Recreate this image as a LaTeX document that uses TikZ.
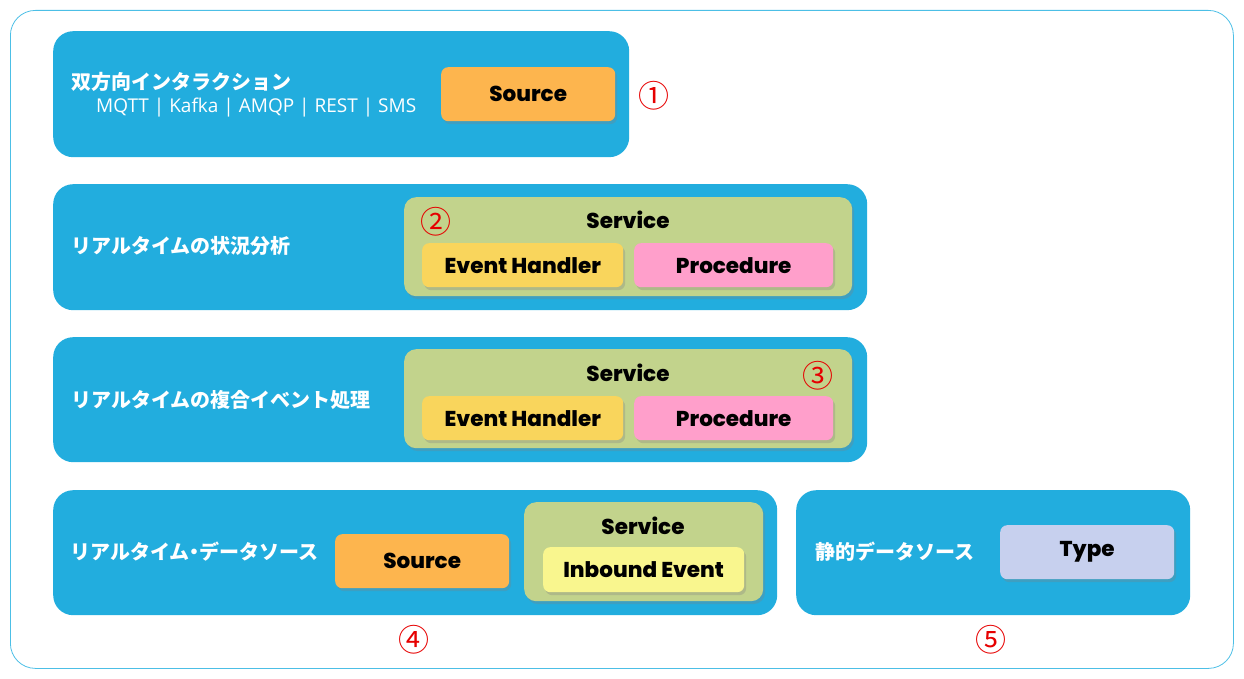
\documentclass[tikz,border=0pt]{standalone}
\usepackage{fontspec}
\usepackage{xcolor}
\usepackage{tikz}
\usetikzlibrary{positioning,shadows}
\newfontfamily\jpfont{Noto Sans CJK JP}
\newfontfamily\etiketfont{Poppins}[BoldFont={Poppins ExtraBold}]
\newfontfamily\protofont{Open Sans}
\definecolor{gxu-blaa}{HTML}{22ADDE}
\definecolor{gxu-ramme}{HTML}{4CBFE6}
\definecolor{gxu-orange}{HTML}{FDB54E}
\definecolor{gxu-groen}{HTML}{C2D38C}
\definecolor{gxu-gul}{HTML}{F9D55C}
\definecolor{gxu-pink}{HTML}{FF9FCB}
\definecolor{gxu-lysgul}{HTML}{F9F68E}
\definecolor{gxu-lilla}{HTML}{C7D0EE}
\definecolor{gxu-roed}{HTML}{E60000}

\begin{document}
\begin{tikzpicture}[x=1pt,y=-1pt,
  ramme/.style={draw=gxu-ramme,line width=0.8pt,rounded corners=25pt,anchor=north west,inner sep=0pt},
  raekke/.style={fill=gxu-blaa,rounded corners=20pt,anchor=north west,inner sep=0pt},
  tjeneste/.style={fill=gxu-groen,rounded corners=12pt,anchor=north west,inner sep=0pt,
    drop shadow={shadow xshift=2pt,shadow yshift=-3pt,opacity=0.3}},
  kort/.style={rounded corners=7pt,anchor=north west,inner sep=0pt,
    font=\etiketfont\bfseries\fontsize{21.5}{24}\selectfont,
    drop shadow={shadow xshift=2pt,shadow yshift=-3pt,opacity=0.3}},
  titel/.style={anchor=west,inner sep=0pt,text=white,font=\jpfont\bfseries\fontsize{20}{24}\selectfont},
  overskrift/.style={inner sep=0pt,font=\etiketfont\bfseries\fontsize{21.5}{24}\selectfont},
  nummer/.style={inner sep=0pt,text=gxu-roed,font=\jpfont\fontsize{31}{34}\selectfont}]
  \useasboundingbox (0,0) rectangle (1244,679);

  % Ramme
  \node[ramme,minimum width=1223pt,minimum height=658pt] (ramme) at (10,10) {};

  % Raekke 1
  \node[raekke,minimum width=576pt,minimum height=126pt] (r1) at (53,31) {};
  \node[titel] (t1) at (71,82) {双方向インタラクション};
  \node[anchor=west,inner sep=0pt,text=white,font=\protofont\fontsize{19}{22}\selectfont]
    (proto) at (96,108) {MQTT | Kafka | AMQP | REST | SMS};
  \node[kort,fill=gxu-orange,minimum width=174pt,minimum height=54pt] (kilde1) at (441,67) {Source};
  \node[nummer] (n1) at (654,96) {①};

  % Raekke 2
  \node[raekke,minimum width=814pt,minimum height=126pt] (r2) at (53,184) {};
  \node[titel] (t2) at (71,246) {リアルタイムの状況分析};
  \node[tjeneste,minimum width=448pt,minimum height=99pt] (s2) at (404,197) {};
  \node[overskrift] (s2navn) at (628,220) {Service};
  \node[kort,fill=gxu-gul,minimum width=201pt,minimum height=44pt] (eh2) at (422,243) {Event Handler};
  \node[kort,fill=gxu-pink,minimum width=199pt,minimum height=44pt] (pr2) at (634,243) {Procedure};
  \node[nummer] (n2) at (436,222) {②};

  % Raekke 3
  \node[raekke,minimum width=814pt,minimum height=125pt] (r3) at (53,337) {};
  \node[titel] (t3) at (71,400) {リアルタイムの複合イベント処理};
  \node[tjeneste,minimum width=448pt,minimum height=99pt] (s3) at (404,349) {};
  \node[overskrift] (s3navn) at (628,373) {Service};
  \node[kort,fill=gxu-gul,minimum width=201pt,minimum height=44pt] (eh3) at (422,396) {Event Handler};
  \node[kort,fill=gxu-pink,minimum width=199pt,minimum height=44pt] (pr3) at (634,396) {Procedure};
  \node[nummer] (n3) at (818,376) {③};

  % Raekke 4
  \node[raekke,minimum width=724pt,minimum height=125pt] (r4) at (53,490) {};
  \node[titel] (t4) at (70,552) {リアルタイム\kern-5pt・\kern-5pt データソース};
  \node[kort,fill=gxu-orange,minimum width=174pt,minimum height=54pt] (kilde4) at (335,534) {Source};
  \node[tjeneste,minimum width=239pt,minimum height=99pt] (s4) at (524,502) {};
  \node[overskrift] (s4navn) at (643,526) {Service};
  \node[kort,fill=gxu-lysgul,minimum width=201pt,minimum height=45pt] (ib4) at (543,547) {Inbound Event};
  \node[nummer] (n4) at (414,640) {④};

  % Raekke 5
  \node[raekke,minimum width=394pt,minimum height=125pt] (r5) at (796,490) {};
  \node[titel] (t5) at (815,552) {静的データソース};
  \node[kort,fill=gxu-lilla,minimum width=174pt,minimum height=54pt] (type5) at (1000,525) {Type};
  \node[nummer] (n5) at (991,640) {⑤};
\end{tikzpicture}
\end{document}
